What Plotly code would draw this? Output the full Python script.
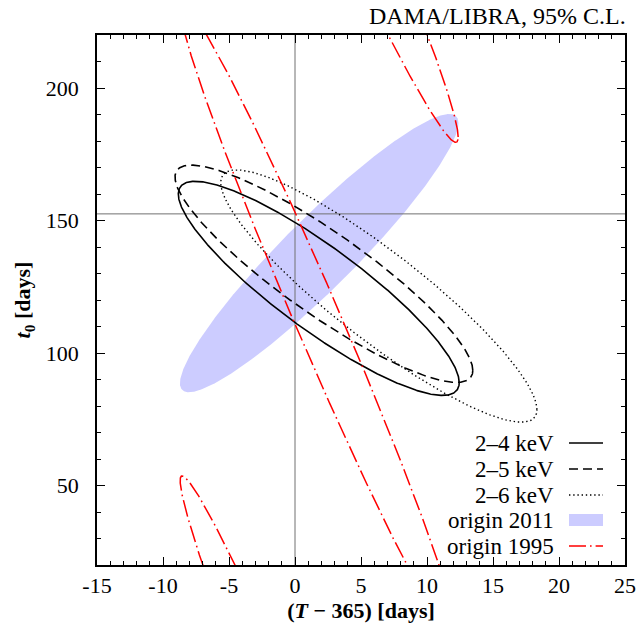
import numpy as np
import plotly.graph_objects as go

# ---- data ----
labels = ["2–4 keV", "2–5 keV", "2–6 keV", "origin 2011", "origin 1995"]
center_T = [1.80, 2.19, 6.35, 1.83, 1.83]          # (T-365) centre [days]
center_t0 = [124.4, 129.9, 121.5, 137.7, 111.4]     # t0 centre [days]
half_T = [10.64, 11.28, 11.98, 10.55, 10.53]        # half extent in T
half_t0 = [40.4, 41.0, 47.6, 52.5, 120.5]           # half extent in t0
corr = [-0.88, -0.89, -0.90, 0.935, -0.984]         # correlation
phase_copies = [-1, 0, 1]                           # t0 ambiguity by T/2 (origin 1995)
year_days = 365.0
ref_T = 0.0
ref_t0 = 152.5

x_tick_vals = [-15, -10, -5, 0, 5, 10, 15, 20, 25]
x_tick_text = ["-15", "-10", "-5", "0", "5", "10", "15", "20", "25"]
y_tick_vals = [50, 100, 150, 200]
y_tick_text = ["50", "100", "150", "200"]

FONT = "Liberation Serif"
FS = 22
FS_TXT = 23


def ellipse(i, n=721):
    t = np.linspace(0, 2 * np.pi, n)
    r = corr[i]
    x = center_T[i] + half_T[i] * np.cos(t)
    y = center_t0[i] + half_t0[i] * (r * np.cos(t) + np.sqrt(1 - r * r) * np.sin(t))
    return x, y


fig = go.Figure()

# origin 2011 filled ellipse
x, y = ellipse(3)
fig.add_trace(go.Scatter(x=x, y=y, mode="lines", fill="toself",
                         fillcolor="#ccccff", line=dict(width=0),
                         hoverinfo="skip", showlegend=False))

# reference lines
fig.add_trace(go.Scatter(x=[ref_T, ref_T], y=[0, 400], mode="lines",
                         line=dict(color="#707070", width=1), showlegend=False))
fig.add_trace(go.Scatter(x=[-100, 100], y=[ref_t0, ref_t0], mode="lines",
                         line=dict(color="#707070", width=1), showlegend=False))

styles = [
    dict(color="black", width=1.6),
    dict(color="black", width=1.6, dash="9px,5px"),
    dict(color="black", width=1.4, dash="1.4px,2.8px"),
]
for i in range(3):
    x, y = ellipse(i)
    fig.add_trace(go.Scatter(x=x, y=y, mode="lines", line=styles[i], showlegend=False))

red_style = dict(color="#ff0000", width=1.5, dash="17px,4px,1.6px,4px")
x, y = ellipse(4)
for k in phase_copies:
    fig.add_trace(go.Scatter(x=x, y=y + k * (year_days + x) / 2, mode="lines",
                             line=red_style, showlegend=False))

# ---- legend drawn manually (text left, sample right) ----
L, R, T, B = 97, 625, 35, 565
W, H = R - L, B - T
def px(xp):
    return (xp - L) / W
def py(yp):
    return (B - yp) / H

row_y = [443, 469, 495, 520, 546]
samples = [styles[0], styles[1], styles[2], None, red_style]
for lab, yy, st in zip(labels, row_y, samples):
    fig.add_annotation(x=px(556), y=py(yy), xref="paper", yref="paper",
                       text=lab, showarrow=False, xanchor="right", yanchor="middle",
                       font=dict(family=FONT, size=FS_TXT, color="black"))
    if st is None:
        fig.add_shape(type="rect", xref="paper", yref="paper",
                      x0=px(569), x1=px(603), y0=py(yy - 6), y1=py(yy + 6),
                      fillcolor="#ccccff", line=dict(width=0))
    else:
        fig.add_shape(type="line", xref="paper", yref="paper",
                      x0=px(569), x1=px(603), y0=py(yy), y1=py(yy),
                      line=st)

fig.add_annotation(x=px(628), y=py(16), xref="paper", yref="paper",
                   text="DAMA/LIBRA, 95% C.L.", showarrow=False,
                   xanchor="right", yanchor="middle",
                   font=dict(family=FONT, size=FS_TXT + 1, color="black"))

axis_common = dict(showgrid=False, zeroline=False, showline=True, linecolor="black",
                   linewidth=1.5, mirror="allticks", ticks="inside", tickcolor="black",
                   tickwidth=1, automargin=False,
                   tickfont=dict(family=FONT, size=FS, color="black"))

fig.update_xaxes(range=[-15, 25], tickmode="array", tickvals=x_tick_vals,
                 ticktext=x_tick_text, ticklen=8, ticklabelstandoff=0,
                 minor=dict(dtick=1, tick0=0, ticklen=4, ticks="inside", tickcolor="black", tickwidth=1),
                 title=dict(text="<b>(<i>T</i> − 365) [days]</b>", standoff=4,
                            font=dict(family=FONT, size=FS, color="black")),
                 **axis_common)
fig.update_yaxes(range=[20, 220], tickmode="array", tickvals=y_tick_vals,
                 ticktext=y_tick_text, ticklen=8, ticklabelstandoff=12,
                 minor=dict(dtick=10, tick0=0, ticklen=4, ticks="inside", tickcolor="black", tickwidth=1),
                 title=dict(text="<b><i>t</i><sub>0</sub> [days]</b>", standoff=9,
                            font=dict(family=FONT, size=FS, color="black")),
                 **axis_common)

fig.update_layout(width=641, height=629, autosize=False,
                  margin=dict(l=L, r=641 - R, t=T, b=629 - B),
                  plot_bgcolor="white", paper_bgcolor="white",
                  showlegend=False)

fig.write_html("out.html", config={"displayModeBar": False},
               post_script="document.body.style.margin='0';"
                           "document.documentElement.style.overflow='hidden';"
                           "document.body.style.overflow='hidden';")
